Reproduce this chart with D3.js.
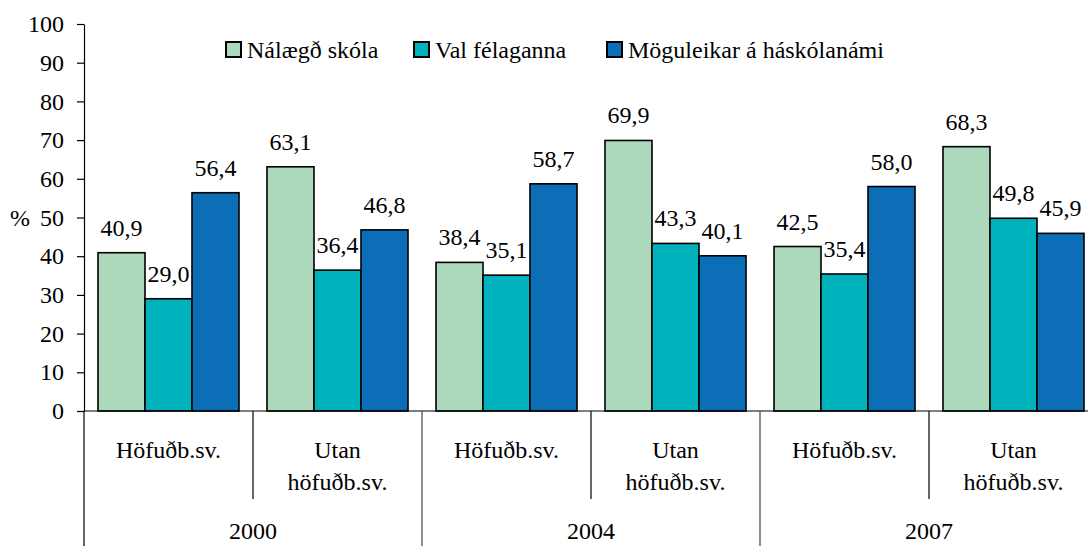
<!DOCTYPE html>
<html>
<head>
<meta charset="utf-8">
<script src="https://cdn.jsdelivr.net/npm/d3@7"></script>
<style>
  body { margin: 0; background: #fff; }
  svg { display: block; }
  svg text { font-family: "Liberation Serif", Tinos, "Times New Roman", "DejaVu Serif", serif; }
</style>
</head>
<body>
<svg id="chart" width="1088" height="546"></svg>
<script>
const years = ['2000', '2004', '2007'];
const regions = ['Höfuðb.sv.', 'Utan höfuðb.sv.'];
const seriesNames = ['Nálægð skóla', 'Val félaganna', 'Möguleikar á háskólanámi'];
const seriesColors = ['#acd9bb', '#00b2bc', '#0b6eb6'];

// one value per group: 2000 H, 2000 U, 2004 H, 2004 U, 2007 H, 2007 U
const nalaegd = [40.9, 63.1, 38.4, 69.9, 42.5, 68.3];
const valFelaganna = [29.0, 36.4, 35.1, 43.3, 35.4, 49.8];
const moguleikar = [56.4, 46.8, 58.7, 40.1, 58.0, 45.9];

const yTicks = [0, 10, 20, 30, 40, 50, 60, 70, 80, 90, 100];

const svg = d3.select('#chart');
const fontSize = 24;

const groups = [];
years.forEach((y) => regions.forEach((r) => groups.push(y + '|' + r)));
const seriesValues = [nalaegd, valFelaganna, moguleikar];

const groupWidth = 169;
const left = 84;
const x = d3.scaleBand().domain(groups).range([left, left + groupWidth * groups.length]);
const xInner = d3.scaleBand().domain(seriesNames).range([14, 155]);
const y = d3.scaleLinear().domain([0, 100]).range([411, 24]);

const fmt = (v) => d3.format('.1f')(v).replace('.', ',');

// bars
seriesNames.forEach((name, si) => {
    const g = svg.append('g');
    g.selectAll('rect').data(seriesValues[si]).enter().append('rect')
        .attr('x', (d, i) => x(groups[i]) + xInner(name))
        .attr('y', (d) => y(d))
        .attr('width', xInner.bandwidth())
        .attr('height', (d) => y(0) - y(d))
        .attr('fill', seriesColors[si])
        .attr('stroke', '#000')
        .attr('stroke-width', 1.6);

    g.selectAll('text').data(seriesValues[si]).enter().append('text')
        .attr('x', (d, i) => x(groups[i]) + xInner(name) + xInner.bandwidth() / 2)
        .attr('y', (d) => y(d) - 17)
        .attr('text-anchor', 'middle')
        .attr('font-size', fontSize)
        .text((d) => fmt(d));
});

// y axis
const yAxis = svg.append('g')
    .attr('transform', `translate(${left},0)`)
    .call(d3.axisLeft(y).tickValues(yTicks).tickSize(7).tickSizeOuter(0).tickPadding(13));
yAxis.attr('font-family', null);
yAxis.selectAll('text').attr('font-size', fontSize).attr('fill', '#000');
yAxis.selectAll('line, path').attr('stroke', '#000').attr('stroke-width', 1.2);

svg.append('line')
    .attr('x1', left).attr('x2', left)
    .attr('y1', y(0)).attr('y2', 546)
    .attr('stroke', '#000').attr('stroke-width', 1.2);

svg.append('text')
    .attr('x', 20).attr('y', 226)
    .attr('text-anchor', 'middle')
    .attr('font-size', fontSize)
    .text('%');

// x axis baseline
svg.append('line')
    .attr('x1', left).attr('x2', 1088)
    .attr('y1', y(0)).attr('y2', y(0))
    .attr('stroke', '#000').attr('stroke-width', 1.2);

// separators between regions and years
groups.forEach((grp, i) => {
    if (i === 0) return;
    const isYear = i % regions.length === 0;
    svg.append('line')
        .attr('x1', x(grp)).attr('x2', x(grp))
        .attr('y1', y(0)).attr('y2', isYear ? 546 : 499)
        .attr('stroke', isYear ? '#444' : '#000')
        .attr('stroke-width', 1.2);
});

// region labels
groups.forEach((grp) => {
    const label = grp.split('|')[1];
    const cx = x(grp) + x.bandwidth() / 2;
    const lines = label === 'Höfuðb.sv.' ? [label] : ['Utan', 'höfuðb.sv.'];
    const t = svg.append('text')
        .attr('text-anchor', 'middle')
        .attr('font-size', fontSize);
    lines.forEach((ln, li) => {
        t.append('tspan').attr('x', cx).attr('y', 458 + li * 32).text(ln);
    });
});

// year labels
years.forEach((yr) => {
    const x0 = x(yr + '|' + regions[0]);
    svg.append('text')
        .attr('x', x0 + x.bandwidth())
        .attr('y', 539)
        .attr('text-anchor', 'middle')
        .attr('font-size', fontSize)
        .text(yr);
});

// legend
const legendX = [226, 414, 607];
seriesNames.forEach((name, i) => {
    svg.append('rect')
        .attr('x', legendX[i]).attr('y', 42)
        .attr('width', 15).attr('height', 15)
        .attr('fill', seriesColors[i])
        .attr('stroke', '#000').attr('stroke-width', 2);
    svg.append('text')
        .attr('x', legendX[i] + 21).attr('y', 58)
        .attr('font-size', fontSize)
        .text(name);
});
</script>
</body>
</html>
